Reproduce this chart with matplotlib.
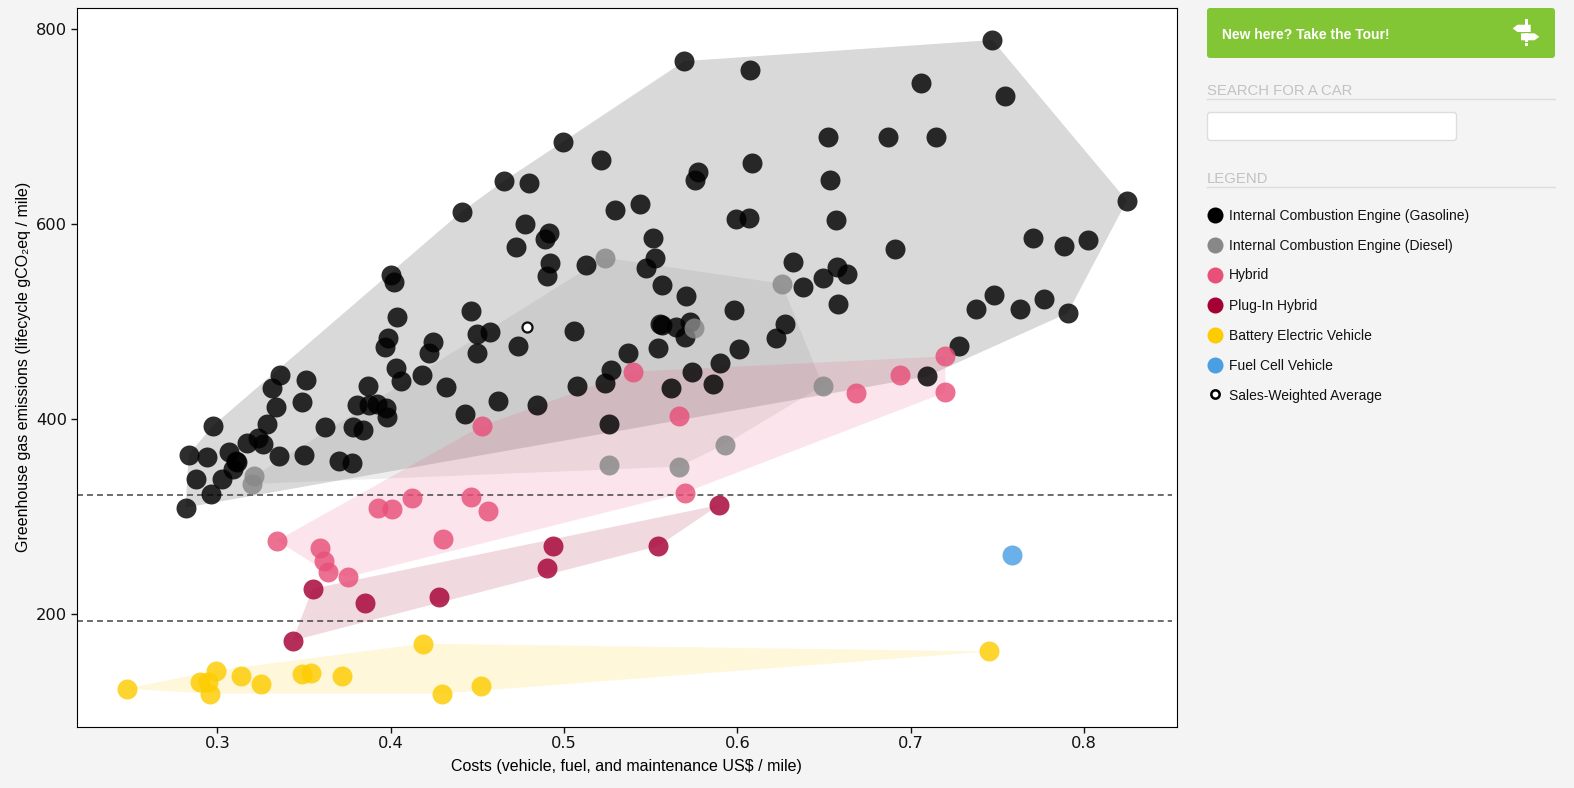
import matplotlib
matplotlib.use("Agg")
import matplotlib.pyplot as plt
from matplotlib.patches import FancyBboxPatch, Polygon, Rectangle

# gasoline / diesel cars etc
gas_x = [.2835, .2940, .2973, .2877, .2962, .2817, .3027, .3069, .3088, .3108, .3115, .3173,
         .3233, .3265, .3286, .3338, .3315, .3359, .3509, .3486, .3356, .3500, .3621, .3702,
         .3777, .3780, .3840, .3804, .3875, .3923, .3971, .3977, .3869, .4028, .4059, .4180,
         .4319, .4426, .4617, .3965, .4221, .4246, .4497, .3987, .4039, .4004, .4021,
         .4721, .4775, .4888, .4913, .4919, .4902, .5125, .5513, .5525, .5473, .5565, .5703,
         .5980, .6320, .6378, .6492, .6574, .6632, .6580, .6907, .6274, .6222, .6009, .5899,
         .5738, .5859, .5617, .5726, .5646, .5696, .5553, .5563, .5542, .5369, .5273, .5234,
         .5075, .5058, .4734, .4573, .4496, .4463, .4844, .5259,
         .7470, .5694, .6070, .7060, .7545, .4994, .6521, .6869, .7146, .5214, .6082, .5775,
         .5757, .4653, .4797, .6533, .5439, .8246, .5295, .4409, .5989, .6064, .6568, .7702,
         .7882, .8020, .7378, .7482, .7627, .7766, .7904, .7280, .7094]
gas_y = [363.4, 361.4, 392.8, 338.5, 323.4, 309.1, 338.8, 366.5, 349.1, 357.3, 356.2, 375.0,
         380.2, 374.7, 395.2, 412.6, 432.1, 445.5, 440.0, 417.8, 362.4, 363.4, 391.8, 357.3,
         355.2, 391.8, 389.1, 414.7, 414.7, 415.4, 410.9, 402.1, 434.2, 452.6, 439.0, 445.1,
         433.2, 405.5, 418.5, 474.2, 468.0, 479.3, 467.4, 483.0, 505.0, 548.0, 540.0,
         576.7, 600.0, 584.6, 591.1, 560.3, 547.0, 558.3, 586.0, 564.8, 555.2, 537.8, 526.5,
         512.1, 561.4, 535.7, 544.9, 556.2, 549.1, 518.3, 574.7, 497.8, 483.4, 472.1, 457.8,
         448.5, 436.2, 432.1, 499.8, 494.7, 484.4, 497.8, 496.0, 473.2, 468.0, 449.9, 437.3,
         434.2, 490.6, 475.2, 489.6, 487.5, 511.1, 414.7, 395.2,
         788.7, 767.0, 757.7, 744.3, 731.0, 683.6, 688.7, 689.7, 689.7, 666.0, 663.0, 653.7,
         645.5, 644.1, 642.5, 645.5, 620.8, 623.9, 614.6, 612.6, 605.0, 606.4, 604.3, 585.9,
         577.6, 583.7, 512.6, 527.0, 512.6, 522.9, 508.5, 474.6, 443.7]

diesel_x = [.5234, .6255, .5750, .6492, .5926, .5661, .5259, .3211, .3198]
diesel_y = [565.5, 538.8, 493.7, 434.2, 373.7, 351.1, 353.2, 341.2, 333.3]

hybrid_x = [.3344, .3590, .3613, .3636, .3754, .3925, .4007, .4123, .4463, .4561, .4301, .4526,
            .5398, .5661, .5696, .6682, .6938, .7199, .7199]
hybrid_y = [275.2, 268.0, 254.7, 242.7, 238.0, 309.1, 308.0, 318.6, 319.7, 306.0, 276.9, 392.8,
            448.5, 403.4, 324.4, 427.0, 444.7, 464.2, 427.2]

plugin_x = [.3550, .3852, .4278, .3434, .4901, .4936, .5544, .5894]
plugin_y = [225.9, 211.6, 217.8, 172.6, 247.0, 269.7, 269.7, 311.8]

bev_x = [.2477, .2900, .2948, .2990, .2956, .3135, .3250, .3486, .3540, .3717, .4186, .4294, .4519, .7453]
bev_y = [123.4, 130.6, 130.6, 141.9, 118.3, 136.1, 128.2, 138.5, 139.8, 136.8, 169.6, 118.3, 126.5, 161.6]

fcv_x = [.7581]
fcv_y = [260.0]

avg_x = [.4786]
avg_y = [494.7]

target_lines = [322, 193]

x_ticks = [0.3, 0.4, 0.5, 0.6, 0.7, 0.8]
y_ticks = [200, 400, 600, 800]

legend_names = ["Internal Combustion Engine (Gasoline)", "Internal Combustion Engine (Diesel)",
                "Hybrid", "Plug-In Hybrid", "Battery Electric Vehicle", "Fuel Cell Vehicle"]
legend_colors = ["#000000", "#888888", "#e8507a", "#a50034", "#fdcc00", "#4a9fe3"]

BG = "#f4f4f4"
GREEN = "#82c535"
PX = 1574
PY = 788
SANS = "Liberation Sans"


def convex_hull(xs, ys):
    pts = sorted(set(zip(xs, ys)))

    def half(points):
        out = []
        for p in points:
            while len(out) >= 2 and ((out[-1][0] - out[-2][0]) * (p[1] - out[-2][1])
                                     - (out[-1][1] - out[-2][1]) * (p[0] - out[-2][0])) <= 0:
                out.pop()
            out.append(p)
        return out[:-1]

    return half(pts) + half(pts[::-1])


fig = plt.figure(figsize=(PX / 100, PY / 100), dpi=100, facecolor=BG)
ax = fig.add_axes([76.5 / PX, 1 - 726.5 / PY, (1177 - 76.5) / PX, (726.5 - 8) / PY])
ax.set_xlim(0.2188, 0.8535)
ax.set_ylim(84.6, 821.5)

series = [(gas_x, gas_y, legend_colors[0]), (diesel_x, diesel_y, legend_colors[1]),
          (hybrid_x, hybrid_y, legend_colors[2]), (plugin_x, plugin_y, legend_colors[3]),
          (bev_x, bev_y, legend_colors[4])]

# hulls go under the dots
for xs, ys, col in series:
    ax.add_patch(Polygon(convex_hull(xs, ys), closed=True, facecolor=col, alpha=0.15,
                         edgecolor="none", zorder=1))

for y in target_lines:
    ax.plot([0.2188, 0.8504], [y, y], color="#444444", lw=1.1, dashes=(3.9, 2.65), zorder=2)

for xs, ys, col in series + [(fcv_x, fcv_y, legend_colors[5])]:
    ax.scatter(xs, ys, s=207, color=col, alpha=0.82, linewidths=0, zorder=3)

ax.scatter(avg_x, avg_y, s=52, facecolor="white", edgecolor="#111111", linewidths=1.6, zorder=4)

ax.set_xticks(x_ticks)
ax.set_yticks(y_ticks)
ax.set_xticklabels([str(v) for v in x_ticks])
ax.tick_params(axis="both", labelsize=11.7, length=4.2, width=1, pad=2.5, colors="#111111")
ax.set_xlabel("Costs (vehicle, fuel, and maintenance US$ / mile)", fontsize=11.55, family=SANS, labelpad=6)
ax.set_ylabel("Greenhouse gas emissions (lifecycle gCO\u2082eq / mile)", fontsize=11.55, family=SANS, labelpad=4)

# sidebar, drawn in pixel coordinates on a full-figure overlay
side = fig.add_axes([0, 0, 1, 1], facecolor="none")
side.set_xlim(0, PX)
side.set_ylim(PY, 0)
side.axis("off")

side.add_patch(FancyBboxPatch((1207, 8), 348, 50, boxstyle="round,pad=0,rounding_size=3",
                              facecolor=GREEN, edgecolor="none"))
side.text(1222, 35, "New here? Take the Tour!", color="white", fontsize=10, fontweight="bold",
          family=SANS, va="center")

# signpost icon
side.add_patch(Rectangle((1524.7, 19), 2.8, 27, facecolor="white", edgecolor="none"))
side.add_patch(Rectangle((1524.7, 41.5), 2.8, 1.5, facecolor=GREEN, edgecolor="none"))
side.add_patch(Rectangle((1524.7, 32.2), 2.8, 1, facecolor=GREEN, edgecolor="none"))
side.add_patch(Polygon([(1512.7, 28.4), (1517.5, 24.7), (1530.7, 24.7), (1530.7, 32), (1517.5, 32)],
                       facecolor="white", edgecolor="none"))
side.add_patch(Polygon([(1521, 33.3), (1534.5, 33.3), (1539.3, 36.8), (1534.5, 40.3), (1521, 40.3)],
                       facecolor="white", edgecolor="none"))

side.text(1207, 91, "SEARCH FOR A CAR", color="#c2c2c2", fontsize=10.7, family=SANS, va="center")
side.plot([1207, 1555], [99, 99], color="#dcdcdc", lw=1)
side.add_patch(FancyBboxPatch((1207.5, 112.5), 249, 28, boxstyle="round,pad=0,rounding_size=3",
                              facecolor="white", edgecolor="#dddddd", lw=1))

side.text(1207, 179, "LEGEND", color="#c2c2c2", fontsize=10.7, family=SANS, va="center")
side.plot([1207, 1555], [187, 187], color="#dcdcdc", lw=1)

for i, (name, col) in enumerate(zip(legend_names, legend_colors)):
    y = 215 + i * 30
    side.scatter([1215], [y], s=133, color=col, linewidths=0)
    side.text(1229, y + 0.5, name, fontsize=10, family=SANS, color="#111111", va="center")

side.scatter([1215], [394], s=36, facecolor="white", edgecolor="black", linewidths=1.8)
side.text(1229, 395.5, "Sales-Weighted Average", fontsize=10, family=SANS, color="#111111", va="center")

fig.savefig("out.png", dpi=100, facecolor=BG)
